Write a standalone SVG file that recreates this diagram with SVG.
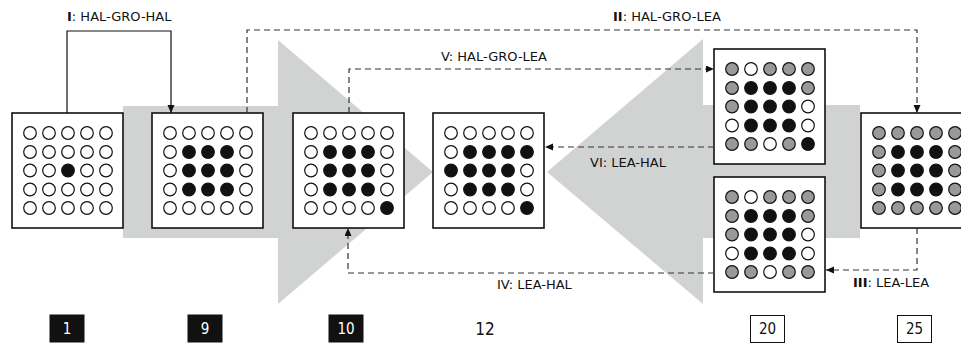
<svg xmlns="http://www.w3.org/2000/svg" width="961" height="352" viewBox="0 0 961 352">
<style>
text{font-family:"DejaVu Sans","Liberation Sans",sans-serif;font-size:13px;fill:#111}
.b{font-weight:bold}
.box{fill:#fff;stroke:#111;stroke-width:1.6}
.w{fill:#fff;stroke:#111;stroke-width:1.2}
.k{fill:#111;stroke:#111;stroke-width:1.2}
.g{fill:#999;stroke:#111;stroke-width:1.2}
.bg{fill:#d1d3d2}
.solid{fill:none;stroke:#111;stroke-width:1.2}
.dash{fill:none;stroke:#333;stroke-width:1.2;stroke-dasharray:6 4}
.num{font-family:"DejaVu Sans Condensed","DejaVu Sans",sans-serif;font-size:15px;text-anchor:middle}
.dk{fill:#111;stroke:#111}
.lt{fill:#fff;stroke:#111;stroke-width:1}
</style>
<defs>
<marker id="ah" markerUnits="userSpaceOnUse" markerWidth="9" markerHeight="8" refX="8" refY="3.5" orient="auto">
<path d="M0,0 L8,3.5 L0,7 z" fill="#111"/>
</marker>
</defs>
<g id="background">
<path class="bg" d="M123,106 H278 V40 L433,172 L278,304 V238 H123 Z"/>
<path class="bg" d="M860,105 H703 V39 L547,172 L703,304 V238 H860 Z"/>
</g>
<g id="n1" transform="translate(12,113)">
<rect class="box" x="0" y="0" width="111" height="115"/>
<circle class="w" cx="18" cy="20" r="6.3"/><circle class="w" cx="37" cy="20" r="6.3"/><circle class="w" cx="56" cy="20" r="6.3"/><circle class="w" cx="75" cy="20" r="6.3"/><circle class="w" cx="94" cy="20" r="6.3"/>
<circle class="w" cx="18" cy="39" r="6.3"/><circle class="w" cx="37" cy="39" r="6.3"/><circle class="w" cx="56" cy="39" r="6.3"/><circle class="w" cx="75" cy="39" r="6.3"/><circle class="w" cx="94" cy="39" r="6.3"/>
<circle class="w" cx="18" cy="57.5" r="6.3"/><circle class="w" cx="37" cy="57.5" r="6.3"/><circle class="k" cx="56" cy="57.5" r="6.3"/><circle class="w" cx="75" cy="57.5" r="6.3"/><circle class="w" cx="94" cy="57.5" r="6.3"/>
<circle class="w" cx="18" cy="76.5" r="6.3"/><circle class="w" cx="37" cy="76.5" r="6.3"/><circle class="w" cx="56" cy="76.5" r="6.3"/><circle class="w" cx="75" cy="76.5" r="6.3"/><circle class="w" cx="94" cy="76.5" r="6.3"/>
<circle class="w" cx="18" cy="95" r="6.3"/><circle class="w" cx="37" cy="95" r="6.3"/><circle class="w" cx="56" cy="95" r="6.3"/><circle class="w" cx="75" cy="95" r="6.3"/><circle class="w" cx="94" cy="95" r="6.3"/>
</g>
<g id="n9" transform="translate(152,113)">
<rect class="box" x="0" y="0" width="111" height="115"/>
<circle class="w" cx="18" cy="20" r="6.3"/><circle class="w" cx="37" cy="20" r="6.3"/><circle class="w" cx="56" cy="20" r="6.3"/><circle class="w" cx="75" cy="20" r="6.3"/><circle class="w" cx="94" cy="20" r="6.3"/>
<circle class="w" cx="18" cy="39" r="6.3"/><circle class="k" cx="37" cy="39" r="6.3"/><circle class="k" cx="56" cy="39" r="6.3"/><circle class="k" cx="75" cy="39" r="6.3"/><circle class="w" cx="94" cy="39" r="6.3"/>
<circle class="w" cx="18" cy="57.5" r="6.3"/><circle class="k" cx="37" cy="57.5" r="6.3"/><circle class="k" cx="56" cy="57.5" r="6.3"/><circle class="k" cx="75" cy="57.5" r="6.3"/><circle class="w" cx="94" cy="57.5" r="6.3"/>
<circle class="w" cx="18" cy="76.5" r="6.3"/><circle class="k" cx="37" cy="76.5" r="6.3"/><circle class="k" cx="56" cy="76.5" r="6.3"/><circle class="k" cx="75" cy="76.5" r="6.3"/><circle class="w" cx="94" cy="76.5" r="6.3"/>
<circle class="w" cx="18" cy="95" r="6.3"/><circle class="w" cx="37" cy="95" r="6.3"/><circle class="w" cx="56" cy="95" r="6.3"/><circle class="w" cx="75" cy="95" r="6.3"/><circle class="w" cx="94" cy="95" r="6.3"/>
</g>
<g id="n10" transform="translate(293,113)">
<rect class="box" x="0" y="0" width="111" height="115"/>
<circle class="w" cx="18" cy="20" r="6.3"/><circle class="w" cx="37" cy="20" r="6.3"/><circle class="w" cx="56" cy="20" r="6.3"/><circle class="w" cx="75" cy="20" r="6.3"/><circle class="w" cx="94" cy="20" r="6.3"/>
<circle class="w" cx="18" cy="39" r="6.3"/><circle class="k" cx="37" cy="39" r="6.3"/><circle class="k" cx="56" cy="39" r="6.3"/><circle class="k" cx="75" cy="39" r="6.3"/><circle class="w" cx="94" cy="39" r="6.3"/>
<circle class="w" cx="18" cy="57.5" r="6.3"/><circle class="k" cx="37" cy="57.5" r="6.3"/><circle class="k" cx="56" cy="57.5" r="6.3"/><circle class="k" cx="75" cy="57.5" r="6.3"/><circle class="w" cx="94" cy="57.5" r="6.3"/>
<circle class="w" cx="18" cy="76.5" r="6.3"/><circle class="k" cx="37" cy="76.5" r="6.3"/><circle class="k" cx="56" cy="76.5" r="6.3"/><circle class="k" cx="75" cy="76.5" r="6.3"/><circle class="w" cx="94" cy="76.5" r="6.3"/>
<circle class="w" cx="18" cy="95" r="6.3"/><circle class="w" cx="37" cy="95" r="6.3"/><circle class="w" cx="56" cy="95" r="6.3"/><circle class="w" cx="75" cy="95" r="6.3"/><circle class="k" cx="94" cy="95" r="6.3"/>
</g>
<g id="n12" transform="translate(433,113)">
<rect class="box" x="0" y="0" width="111" height="115"/>
<circle class="w" cx="18" cy="20" r="6.3"/><circle class="w" cx="37" cy="20" r="6.3"/><circle class="w" cx="56" cy="20" r="6.3"/><circle class="w" cx="75" cy="20" r="6.3"/><circle class="w" cx="94" cy="20" r="6.3"/>
<circle class="w" cx="18" cy="39" r="6.3"/><circle class="k" cx="37" cy="39" r="6.3"/><circle class="k" cx="56" cy="39" r="6.3"/><circle class="k" cx="75" cy="39" r="6.3"/><circle class="k" cx="94" cy="39" r="6.3"/>
<circle class="k" cx="18" cy="57.5" r="6.3"/><circle class="k" cx="37" cy="57.5" r="6.3"/><circle class="k" cx="56" cy="57.5" r="6.3"/><circle class="k" cx="75" cy="57.5" r="6.3"/><circle class="w" cx="94" cy="57.5" r="6.3"/>
<circle class="w" cx="18" cy="76.5" r="6.3"/><circle class="k" cx="37" cy="76.5" r="6.3"/><circle class="k" cx="56" cy="76.5" r="6.3"/><circle class="k" cx="75" cy="76.5" r="6.3"/><circle class="w" cx="94" cy="76.5" r="6.3"/>
<circle class="w" cx="18" cy="95" r="6.3"/><circle class="w" cx="37" cy="95" r="6.3"/><circle class="w" cx="56" cy="95" r="6.3"/><circle class="w" cx="75" cy="95" r="6.3"/><circle class="k" cx="94" cy="95" r="6.3"/>
</g>
<g id="n20a" transform="translate(714,49)">
<rect class="box" x="0" y="0" width="111" height="115"/>
<circle class="g" cx="18" cy="20" r="6.3"/><circle class="w" cx="37" cy="20" r="6.3"/><circle class="g" cx="56" cy="20" r="6.3"/><circle class="g" cx="75" cy="20" r="6.3"/><circle class="g" cx="94" cy="20" r="6.3"/>
<circle class="g" cx="18" cy="39" r="6.3"/><circle class="k" cx="37" cy="39" r="6.3"/><circle class="k" cx="56" cy="39" r="6.3"/><circle class="k" cx="75" cy="39" r="6.3"/><circle class="g" cx="94" cy="39" r="6.3"/>
<circle class="g" cx="18" cy="57.5" r="6.3"/><circle class="k" cx="37" cy="57.5" r="6.3"/><circle class="k" cx="56" cy="57.5" r="6.3"/><circle class="k" cx="75" cy="57.5" r="6.3"/><circle class="w" cx="94" cy="57.5" r="6.3"/>
<circle class="w" cx="18" cy="76.5" r="6.3"/><circle class="k" cx="37" cy="76.5" r="6.3"/><circle class="k" cx="56" cy="76.5" r="6.3"/><circle class="k" cx="75" cy="76.5" r="6.3"/><circle class="w" cx="94" cy="76.5" r="6.3"/>
<circle class="g" cx="18" cy="95" r="6.3"/><circle class="g" cx="37" cy="95" r="6.3"/><circle class="w" cx="56" cy="95" r="6.3"/><circle class="g" cx="75" cy="95" r="6.3"/><circle class="k" cx="94" cy="95" r="6.3"/>
</g>
<g id="n20b" transform="translate(714,177)">
<rect class="box" x="0" y="0" width="111" height="115"/>
<circle class="g" cx="18" cy="20" r="6.3"/><circle class="w" cx="37" cy="20" r="6.3"/><circle class="g" cx="56" cy="20" r="6.3"/><circle class="g" cx="75" cy="20" r="6.3"/><circle class="g" cx="94" cy="20" r="6.3"/>
<circle class="g" cx="18" cy="39" r="6.3"/><circle class="k" cx="37" cy="39" r="6.3"/><circle class="k" cx="56" cy="39" r="6.3"/><circle class="k" cx="75" cy="39" r="6.3"/><circle class="g" cx="94" cy="39" r="6.3"/>
<circle class="g" cx="18" cy="57.5" r="6.3"/><circle class="k" cx="37" cy="57.5" r="6.3"/><circle class="k" cx="56" cy="57.5" r="6.3"/><circle class="k" cx="75" cy="57.5" r="6.3"/><circle class="w" cx="94" cy="57.5" r="6.3"/>
<circle class="w" cx="18" cy="76.5" r="6.3"/><circle class="k" cx="37" cy="76.5" r="6.3"/><circle class="k" cx="56" cy="76.5" r="6.3"/><circle class="k" cx="75" cy="76.5" r="6.3"/><circle class="w" cx="94" cy="76.5" r="6.3"/>
<circle class="g" cx="18" cy="95" r="6.3"/><circle class="g" cx="37" cy="95" r="6.3"/><circle class="w" cx="56" cy="95" r="6.3"/><circle class="g" cx="75" cy="95" r="6.3"/><circle class="g" cx="94" cy="95" r="6.3"/>
</g>
<g id="n25" transform="translate(861,113)">
<rect class="box" x="0" y="0" width="111" height="115"/>
<circle class="g" cx="18" cy="20" r="6.3"/><circle class="g" cx="37" cy="20" r="6.3"/><circle class="g" cx="56" cy="20" r="6.3"/><circle class="g" cx="75" cy="20" r="6.3"/><circle class="g" cx="94" cy="20" r="6.3"/>
<circle class="g" cx="18" cy="39" r="6.3"/><circle class="k" cx="37" cy="39" r="6.3"/><circle class="k" cx="56" cy="39" r="6.3"/><circle class="k" cx="75" cy="39" r="6.3"/><circle class="g" cx="94" cy="39" r="6.3"/>
<circle class="g" cx="18" cy="57.5" r="6.3"/><circle class="k" cx="37" cy="57.5" r="6.3"/><circle class="k" cx="56" cy="57.5" r="6.3"/><circle class="k" cx="75" cy="57.5" r="6.3"/><circle class="g" cx="94" cy="57.5" r="6.3"/>
<circle class="g" cx="18" cy="76.5" r="6.3"/><circle class="k" cx="37" cy="76.5" r="6.3"/><circle class="k" cx="56" cy="76.5" r="6.3"/><circle class="k" cx="75" cy="76.5" r="6.3"/><circle class="g" cx="94" cy="76.5" r="6.3"/>
<circle class="g" cx="18" cy="95" r="6.3"/><circle class="g" cx="37" cy="95" r="6.3"/><circle class="g" cx="56" cy="95" r="6.3"/><circle class="g" cx="75" cy="95" r="6.3"/><circle class="g" cx="94" cy="95" r="6.3"/>
</g>
<g id="connectors">
<path class="solid" d="M67,113 V31 H171 V113" marker-end="url(#ah)"/>
<path class="dash" d="M247,113 V30 H917 V113" marker-end="url(#ah)"/>
<path class="dash" d="M349,113 V69 H714" marker-end="url(#ah)"/>
<path class="dash" d="M714,147 H545" marker-end="url(#ah)"/>
<path class="dash" d="M917,228 V270 H826" marker-end="url(#ah)"/>
<path class="dash" d="M714,273 H348 V228" marker-end="url(#ah)"/>
<text x="67" y="21"><tspan class="b">I</tspan>: HAL-GRO-HAL</text>
<text x="613" y="21"><tspan class="b">II</tspan>: HAL-GRO-LEA</text>
<text x="441" y="61">V: HAL-GRO-LEA</text>
<text x="590" y="167">VI: LEA-HAL</text>
<text x="497" y="289">IV: LEA-HAL</text>
<text x="853" y="287"><tspan class="b">III</tspan>: LEA-LEA</text>
</g>
<g id="labels">
<rect class="dk" x="50" y="315" width="34" height="27"/><text class="num" x="67" y="334" style="fill:#fff">1</text>
<rect class="dk" x="188" y="315" width="34" height="27"/><text class="num" x="205" y="334" style="fill:#fff">9</text>
<rect class="dk" x="329" y="315" width="34" height="27"/><text class="num" x="346" y="334" style="fill:#fff">10</text>
<text class="num" x="485" y="335" style="font-size:17px">12</text>
<rect class="lt" x="750.5" y="315.5" width="34" height="27"/><text class="num" x="767.5" y="334">20</text>
<rect class="lt" x="897.5" y="315.5" width="34" height="27"/><text class="num" x="914.5" y="334">25</text>
</g>
</svg>
